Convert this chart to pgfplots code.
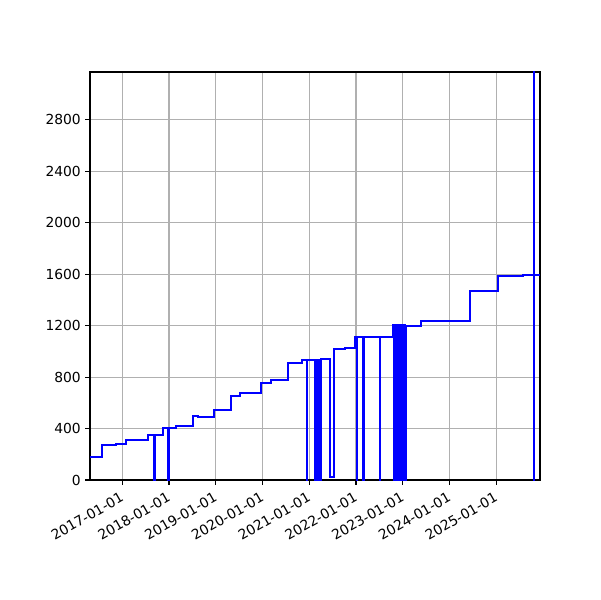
\documentclass[border=0pt]{standalone}
\usepackage{fontspec}
\setmainfont{DejaVu Sans}
\usepackage{pgfplots}
\pgfplotsset{compat=1.18}
\definecolor{gridgray}{RGB}{176,176,176}
\definecolor{mplblue}{RGB}{0,0,255}

\begin{document}
\begin{tikzpicture}
\fontsize{10pt}{12pt}\selectfont
\path[use as bounding box] (-65.04pt,-86.72pt) rectangle (368.56pt,346.88pt);
\begin{axis}[
    at={(0,0)}, anchor=south west,
    scale only axis,
    width=325.2pt, height=294.86pt,
    xmin=2016.309, xmax=2025.935,
    ymin=0, ymax=3173,
    xtick={2017,2018,2019,2020,2021,2022,2023,2024,2025},
    xticklabels={2017-01-01,2018-01-01,2019-01-01,2020-01-01,2021-01-01,2022-01-01,2023-01-01,2024-01-01,2025-01-01},
    ytick={0,400,800,1200,1600,2000,2400,2800},
    xticklabel style={rotate=30, anchor=north east, inner sep=1pt, yshift=-2pt, xshift=-3pt},
    yticklabel style={inner sep=1pt, xshift=-2pt},
    scaled y ticks=false,
    /pgf/number format/assume math mode=true,
    /pgf/number format/1000 sep={},
    tick label style={font=\fontsize{10pt}{12pt}\selectfont},
    grid=major,
    major grid style={gridgray, line width=0.8pt},
    axis line style={black, line width=0.8pt},
    tick style={black, line width=0.8pt},
    tick align=outside,
    major tick length=3.5pt,
    xtick pos=left, ytick pos=left,
]
\addplot[const plot, mplblue, line width=1.5pt, mark=none] coordinates {
    (2016.309, 181) (2016.559, 272) (2016.865, 280) (2017.073, 314)
    (2017.556, 353) (2017.684, 0) (2017.690, 353) (2017.864, 404)
    (2017.984, 0) (2017.990, 404) (2018.142, 420) (2018.519, 500)
    (2018.620, 492) (2018.961, 542) (2019.325, 656) (2019.518, 674)
    (2019.961, 752) (2020.181, 775) (2020.538, 910) (2020.850, 933)
    (2020.944, 0) (2020.960, 933)
    (2021.120, 0) (2021.140, 933) (2021.160, 0) (2021.180, 933)
    (2021.200, 0) (2021.220, 933) (2021.240, 0) (2021.260, 941)
    (2021.443, 20) (2021.535, 1019) (2021.764, 1028) (2021.978, 1115)
    (2022.014, 0) (2022.020, 1115) (2022.155, 0) (2022.161, 1115)
    (2022.512, 0) (2022.518, 1115)
    (2022.797, 1203) (2022.817, 0) (2022.837, 1203) (2022.857, 0)
    (2022.877, 1203) (2022.897, 0) (2022.917, 1203) (2022.937, 0)
    (2022.957, 1203) (2022.977, 0) (2022.997, 1203) (2023.017, 0)
    (2023.037, 1203) (2023.057, 0) (2023.077, 1200)
    (2023.383, 1234) (2024.437, 1467) (2025.030, 1589) (2025.578, 1594)
    (2025.807, 0) (2025.810, 5000) (2025.815, 1594) (2025.935, 1594)
};
\end{axis}
\end{tikzpicture}
\end{document}
